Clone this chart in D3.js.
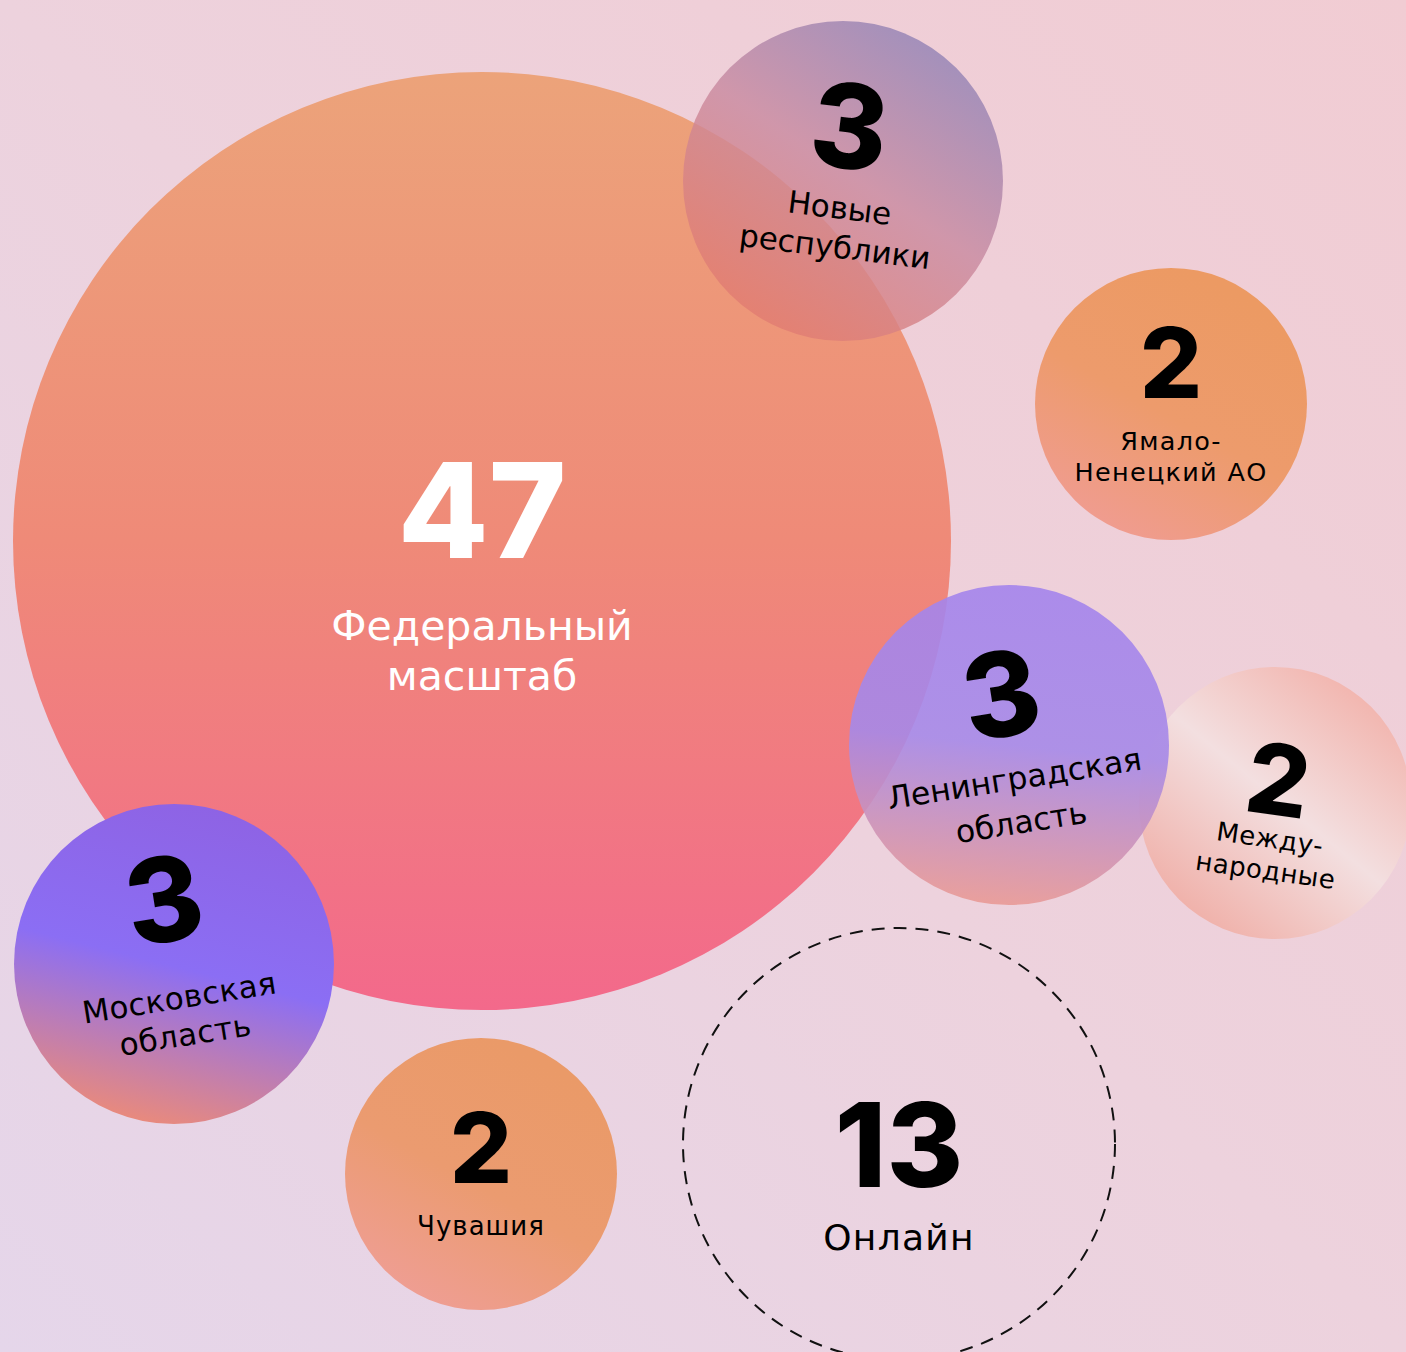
<!DOCTYPE html>
<html>
<head>
<meta charset="utf-8">
<script src="https://cdn.jsdelivr.net/npm/d3@7"></script>
<style>
  body { margin: 0; overflow: hidden; }
  svg { display: block; }
</style>
</head>
<body>
<div id="chart"></div>
<script>
// data
var categories = ["Федеральный масштаб", "Новые республики", "Ямало-Ненецкий АО", "Ленинградская область",
                  "Международные", "Московская область", "Чувашия", "Онлайн"];
var labelLines = [["Федеральный", "масштаб"], ["Новые", "республики"], ["Ямало-", "Ненецкий АО"],
                  ["Ленинградская", "область"], ["Между-", "народные"], ["Московская", "область"],
                  ["Чувашия"], ["Онлайн"]];
var counts = [47, 3, 2, 3, 2, 3, 2, 13];

// layout (bubble placement, not data)
var layout = {
  "Федеральный масштаб":   { x: 482,  y: 541,  rot: 0,  numY: 17,  numSize: 132, labY: 99,  labSize: 41,   lineH: 50,   ls: 0,   color: "#fff", weight: 400 },
  "Новые республики":      { x: 843,  y: 181,  rot: 7,  numY: -13, numSize: 117, labY: 38,  labSize: 31,   lineH: 39,   ls: 0,   color: "#000", weight: 400 },
  "Ямало-Ненецкий АО":     { x: 1171, y: 404,  rot: 0,  numY: -6,  numSize: 98,  labY: 46,  labSize: 25.5, lineH: 31,   ls: 1.3, color: "#000", weight: 400 },
  "Ленинградская область": { x: 1009, y: 745,  rot: -9, numY: -9,  numSize: 117, labY: 45,  labSize: 31.5, lineH: 44,   ls: 0,   color: "#000", weight: 400 },
  "Международные":         { x: 1275, y: 803,  rot: 8,  numY: 12,  numSize: 98,  labY: 45,  labSize: 26,   lineH: 32,   ls: 0.5, color: "#000", weight: 400 },
  "Московская область":    { x: 174,  y: 964,  rot: -9, numY: -23, numSize: 117, labY: 45,  labSize: 31,   lineH: 37.5, ls: 0.4, color: "#000", weight: 400 },
  "Чувашия":               { x: 481,  y: 1174, rot: 0,  numY: 9,   numSize: 98,  labY: 61,  labSize: 26,   lineH: 31,   ls: 1,   color: "#000", weight: 400 },
  "Онлайн":                { x: 899,  y: 1144, rot: 0,  numY: 43,  numSize: 117, labY: 106, labSize: 36,   lineH: 40,   ls: 1.3, color: "#000", weight: 400 }
};

// fills
var fills = {
  "Федеральный масштаб":   { dir: [0, 0, 0, 1], stops: [["#eca37a", 1], ["#ef8a78", 1], ["#f3698b", 1]] },
  "Новые республики":      { dir: [0.85, 0.05, 0.25, 0.95], stops: [["#8c82b8", 0.82], ["#c98aa0", 0.82], ["#e27c70", 0.82]] },
  "Ямало-Ненецкий АО":     { dir: [0.75, 0.1, 0.25, 1], stops: [["#ec9a63", 1], ["#ed9b6c", 1], ["#f09c93", 1]] },
  "Ленинградская область": { dir: [0.55, 0, 0.45, 1], stops: [["#a484ec", 0.9], ["#a689e8", 0.9], ["#e99a95", 0.9]] },
  "Международные":         { dir: [0.85, 0.1, 0.2, 0.9], stops: [["#f2b4ad", 1], ["#f3dfe0", 1], ["#f0b2ab", 1]] },
  "Московская область":    { dir: [0.6, 0, 0.35, 1], stops: [["#8e63e4", 1], ["#8b6ef4", 1], ["#ec8b78", 1]] },
  "Чувашия":               { dir: [0.75, 0.1, 0.25, 1], stops: [["#ea9a68", 1], ["#eb9b70", 1], ["#ef9e96", 1]] }
};

var width = 1406, height = 1352;
var drawOrder = ["Федеральный масштаб", "Ямало-Ненецкий АО", "Международные", "Чувашия", "Онлайн",
                 "Новые республики", "Ленинградская область", "Московская область"];

var rScale = d3.scaleLinear().domain([2, 3, 13, 47]).range([136, 160, 216, 469]);

var svg = d3.select("#chart").append("svg")
    .attr("width", width)
    .attr("height", height);

var defs = svg.append("defs");

var bg = defs.append("linearGradient").attr("id", "bg")
    .attr("x1", 1).attr("y1", 0).attr("x2", 0).attr("y2", 1);
bg.append("stop").attr("offset", 0).attr("stop-color", "#f1ccd3");
bg.append("stop").attr("offset", 0.5).attr("stop-color", "#edd2dd");
bg.append("stop").attr("offset", 1).attr("stop-color", "#e5d6ea");

svg.append("rect").attr("width", width).attr("height", height).attr("fill", "url(#bg)");

Object.keys(fills).forEach(function (name) {
  var f = fills[name];
  var g = defs.append("linearGradient").attr("id", "grad" + categories.indexOf(name))
      .attr("x1", f.dir[0]).attr("y1", f.dir[1]).attr("x2", f.dir[2]).attr("y2", f.dir[3]);
  g.selectAll("stop").data(f.stops).enter().append("stop")
      .attr("offset", function (d, j) { return j / (f.stops.length - 1); })
      .attr("stop-color", function (d) { return d[0]; })
      .attr("stop-opacity", function (d) { return d[1]; });
});

var data = categories.map(function (c, i) {
  return { name: c, value: counts[i], lines: labelLines[i] };
});
data.sort(function (a, b) { return drawOrder.indexOf(a.name) - drawOrder.indexOf(b.name); });

var bubble = svg.selectAll(".bubble")
    .data(data)
    .enter().append("g")
    .attr("class", "bubble")
    .attr("transform", function (d) { return "translate(" + layout[d.name].x + "," + layout[d.name].y + ")"; });

bubble.append("circle")
    .attr("r", function (d) { return rScale(d.value); })
    .attr("fill", function (d) { return fills[d.name] ? "url(#grad" + categories.indexOf(d.name) + ")" : "none"; })
    .attr("stroke", function (d) { return fills[d.name] ? "none" : "#111"; })
    .attr("stroke-width", 2)
    .attr("stroke-dasharray", "13 9");

var txt = bubble.append("g")
    .attr("transform", function (d) { return "rotate(" + layout[d.name].rot + ")"; })
    .attr("text-anchor", "middle");

// big numbers
txt.append("text")
    .attr("y", function (d) { return layout[d.name].numY; })
    .style("font-family", "Inter, 'Noto Sans', sans-serif")
    .style("font-size", function (d) { return layout[d.name].numSize + "px"; })
    .style("font-weight", 800)
    .attr("fill", function (d) { return layout[d.name].color; })
    .text(function (d) { return d.value; });

// labels
txt.each(function (d) {
  var L = layout[d.name];
  d3.select(this).selectAll(".lab")
    .data(d.lines)
    .enter().append("text")
    .attr("class", "lab")
    .attr("y", function (s, i) { return L.labY + i * L.lineH; })
    .style("font-family", "'DejaVu Sans', sans-serif")
    .style("font-size", L.labSize + "px")
    .style("font-weight", L.weight)
    .style("letter-spacing", L.ls + "px")
    .attr("fill", L.color)
    .text(function (s) { return s; });
});
</script>
</body>
</html>
